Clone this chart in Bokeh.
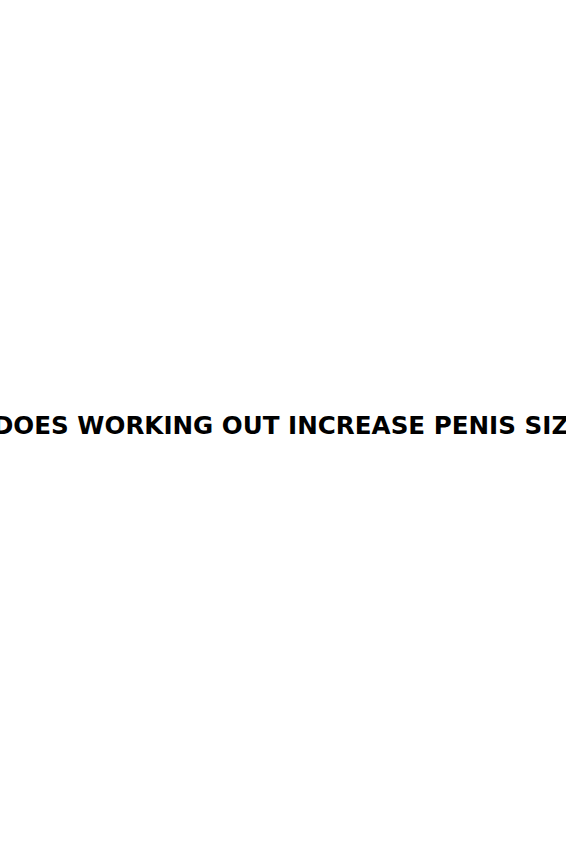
from bokeh.plotting import figure
from bokeh.models import ColumnDataSource
from bokeh.core.properties import value
from bokeh.embed import file_html
from bokeh.resources import INLINE

titles = ["DOES WORKING OUT INCREASE PENIS SIZE"]
title_x = [297]
title_y = [433]

W, H = 574, 866
p = figure(width=W, height=H, x_range=(0, W), y_range=(H, 0),
           output_backend="svg", toolbar_location=None, min_border=0,
           background_fill_color="white", border_fill_color="white")
p.margin = (-8, -8, -8, -8)
p.axis.visible = False
p.grid.visible = False
p.outline_line_color = None

src = ColumnDataSource(dict(x=title_x, y=title_y, t=titles))
p.text(x="x", y="y", text="t", source=src, text_align="center",
       text_baseline="alphabetic", text_font=value("DejaVu Sans"),
       text_font_size="24.6px", text_font_style="bold", text_color="black")

open("out.html", "w").write(file_html(p, INLINE))
